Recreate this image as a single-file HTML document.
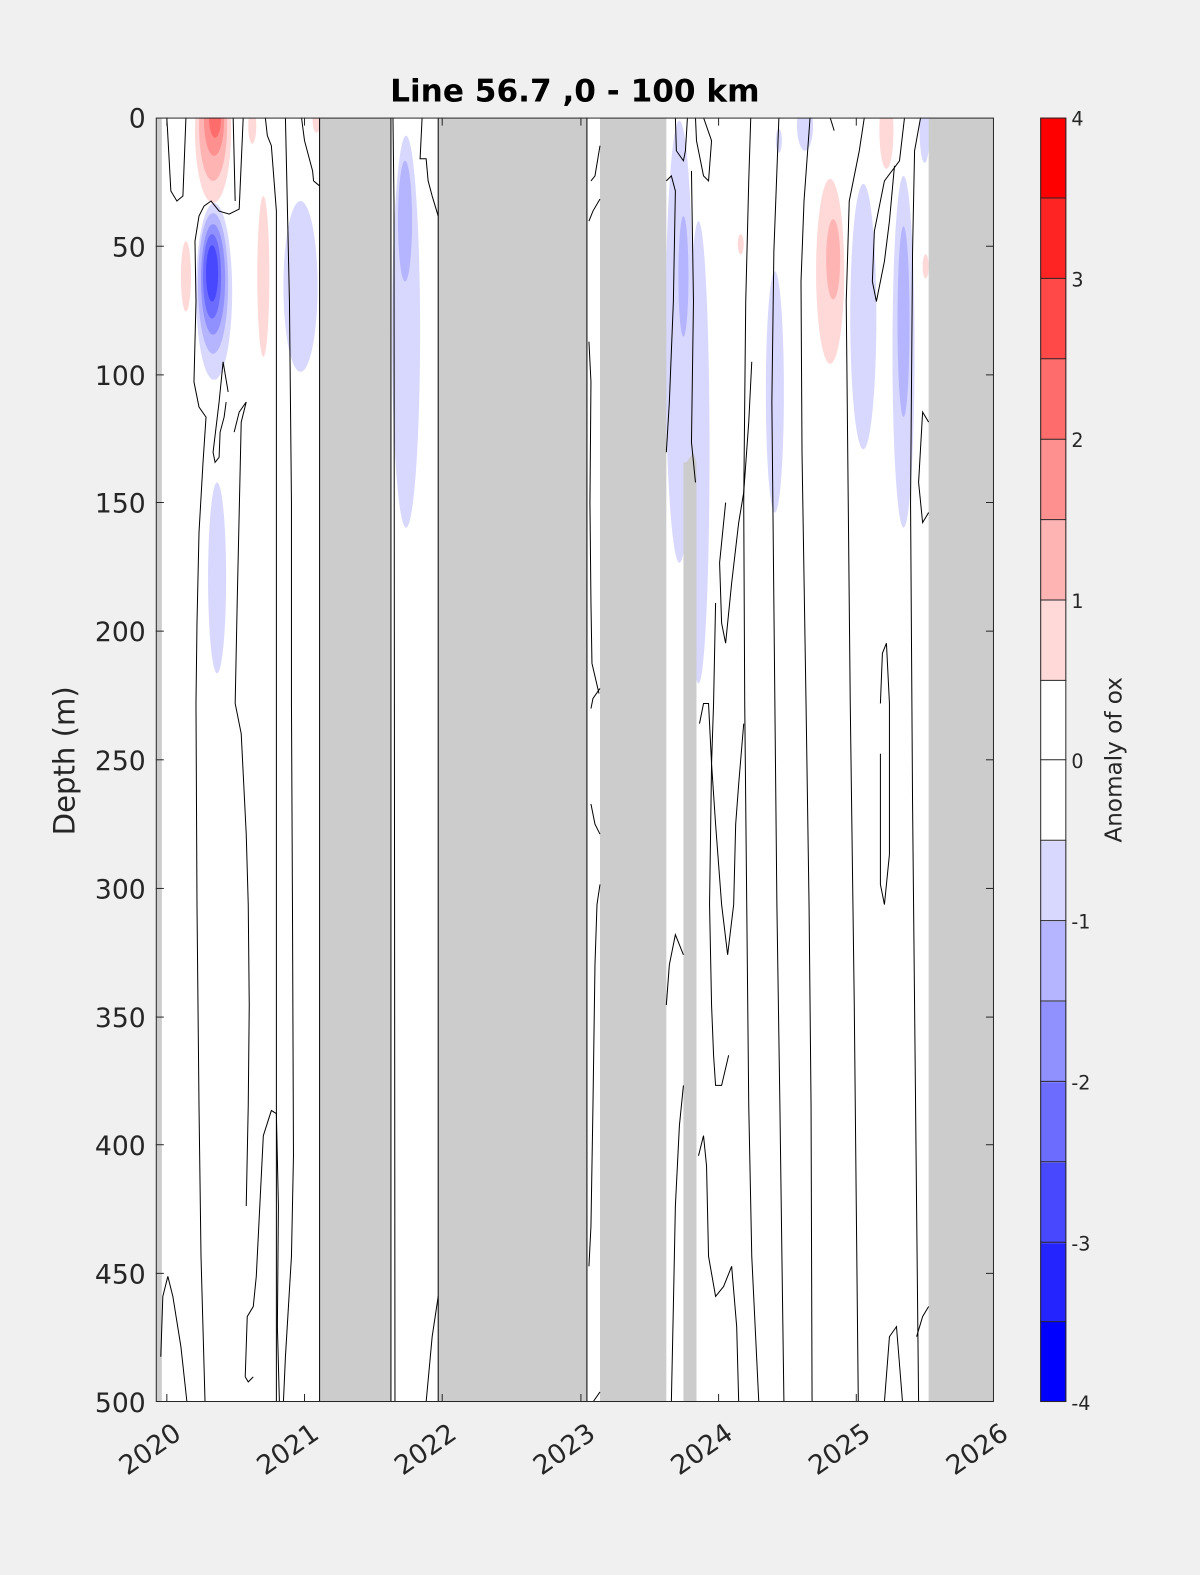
<!DOCTYPE html>
<html><head><meta charset="utf-8"><style>
html,body{margin:0;padding:0;background:#f0f0f0;overflow:hidden;width:1200px;height:1575px;}
svg{display:block;font-family:"DejaVu Sans","Liberation Sans",sans-serif;}
</style></head><body>
<svg width="1200" height="1575" viewBox="0 0 1194 1567" preserveAspectRatio="xMinYMin meet" xmlns="http://www.w3.org/2000/svg">
<defs><clipPath id="pc"><rect x="155" y="117" width="834" height="1278"/></clipPath></defs>
<rect x="0" y="0" width="1194" height="1567" fill="#f0f0f0"/>
<rect x="155" y="117" width="834" height="1278" fill="#fff"/>
<g clip-path="url(#pc)">
<ellipse cx="212" cy="130" rx="18" ry="72" fill="#ffd8d8"/>
<ellipse cx="212" cy="125" rx="14" ry="55" fill="#ffb4b4"/>
<ellipse cx="213" cy="120" rx="10" ry="35" fill="#ff9090"/>
<ellipse cx="214" cy="117" rx="6" ry="20" fill="#ff6c6c"/>
<ellipse cx="213" cy="290" rx="18" ry="88" fill="#d8d8ff"/>
<ellipse cx="212" cy="282" rx="15" ry="70" fill="#b4b4ff"/>
<ellipse cx="212" cy="278" rx="12" ry="55" fill="#9090ff"/>
<ellipse cx="211" cy="275" rx="9" ry="42" fill="#6c6cff"/>
<ellipse cx="211" cy="272" rx="6" ry="28" fill="#4848ff"/>
<ellipse cx="216" cy="575" rx="9" ry="95" fill="#d8d8ff"/>
<ellipse cx="185" cy="275" rx="5" ry="35" fill="#ffd8d8"/>
<ellipse cx="262" cy="275" rx="6" ry="80" fill="#ffd8d8"/>
<ellipse cx="251" cy="125" rx="4" ry="18" fill="#ffd8d8"/>
<ellipse cx="315" cy="120" rx="4" ry="12" fill="#ffd8d8"/>
<ellipse cx="299" cy="285" rx="17" ry="85" fill="#d8d8ff"/>
<ellipse cx="404" cy="330" rx="14" ry="195" fill="#d8d8ff"/>
<ellipse cx="403" cy="220" rx="7" ry="60" fill="#b4b4ff"/>
<ellipse cx="676" cy="340" rx="14" ry="220" fill="#d8d8ff"/>
<ellipse cx="680" cy="275" rx="5" ry="60" fill="#b4b4ff"/>
<ellipse cx="695" cy="450" rx="11" ry="230" fill="#d8d8ff"/>
<ellipse cx="771" cy="390" rx="9" ry="120" fill="#d8d8ff"/>
<ellipse cx="801" cy="125" rx="8" ry="25" fill="#d8d8ff"/>
<ellipse cx="775" cy="140" rx="3" ry="12" fill="#d8d8ff"/>
<ellipse cx="826" cy="270" rx="14" ry="92" fill="#ffd8d8"/>
<ellipse cx="829" cy="258" rx="7" ry="40" fill="#ffb4b4"/>
<ellipse cx="859" cy="315" rx="13" ry="132" fill="#d8d8ff"/>
<ellipse cx="899" cy="350" rx="11" ry="175" fill="#d8d8ff"/>
<ellipse cx="899" cy="320" rx="6" ry="95" fill="#b4b4ff"/>
<ellipse cx="882" cy="130" rx="7" ry="38" fill="#ffd8d8"/>
<ellipse cx="920" cy="130" rx="5" ry="32" fill="#d8d8ff"/>
<ellipse cx="737" cy="243" rx="3" ry="10" fill="#ffd8d8"/>
<ellipse cx="921" cy="265" rx="3" ry="12" fill="#ffd8d8"/>
<g fill="#cccccc">
<rect x="155" y="117" width="6" height="1278"/>
<rect x="318" y="117" width="71" height="1278"/>
<rect x="436" y="117" width="148" height="1278"/>
<rect x="597" y="117" width="66" height="1278"/>
<polygon points="683,460 690,450 693,460 693,1395 680,1395 680,460"/>
<rect x="924" y="117" width="65" height="1278"/>
</g>
<g fill="none" stroke="#000" stroke-width="1">
<line x1="318" y1="117" x2="318" y2="1395"/><line x1="389" y1="117" x2="389" y2="1395"/>
<line x1="436" y1="117" x2="436" y2="1395"/><line x1="584" y1="117" x2="584" y2="1395"/>
<polyline points="166,117 170,190 176,200 182,195 185,117"/>
<polyline points="242,117 238,208 228,213 218,210 210,200 203,205 198,215 194,240 195,300 193,380 198,405 205,415 202,460 198,530 196,620 195,700 196,900 198,1100 200,1250 204,1395"/>
<polyline points="264,117 266,135 270,145 275,210 275,1395"/>
<polyline points="300,117 303,140 311,170 312,180 318,185"/>
<polyline points="232,117 234,200"/>
<polyline points="227,390 222,360 218,400 212,450 214,460 218,455 219,430 223,415 225,400"/>
<polyline points="233,430 238,410 245,400 240,420 236,600 234,700 240,730 245,830 247,900 248,1000 247,1100 245,1200"/>
<polyline points="284,117 288,300 290,500 290,700 291,900 292,1150 290,1250 284,1350 282,1395"/>
<polyline points="244,1370 246,1310 252,1300 255,1270 262,1130 270,1105 275,1108 277,1200 276,1320 278,1395"/>
<polyline points="244,1370 247,1375 252,1370"/>
<polyline points="160,1350 162,1290 167,1270 172,1290 180,1340 186,1395"/>
<polyline points="391,117 392,200 393,1395"/>
<polyline points="420,117 418,158 424,158 426,180 430,195 436,215"/>
<polyline points="436,1290 430,1330 424,1395"/>
<polyline points="597,145 592,175 588,180"/>
<polyline points="597,198 590,210 586,220"/>
<polyline points="586,340 588,380 587,500 588,600 589,660 596,690"/>
<polyline points="597,685 590,695 588,705"/>
<polyline points="588,800 592,820 597,830"/>
<polyline points="597,880 594,900 592,960 590,1100 588,1220 586,1260"/>
<polyline points="597,1385 590,1395"/>
<polyline points="663,180 668,175 672,190 670,300 666,400 663,450"/>
<polyline points="672,117 673,150 680,160 682,150 684,117"/>
<polyline points="692,117 693,140 700,175 705,180 708,140 700,117"/>
<polyline points="688,170 690,300 688,440 692,480"/>
<polyline points="747,117 745,180 742,300 740,500 741,700 743,900 745,1100 748,1250 755,1395"/>
<polyline points="775,117 770,250 768,400 770,600 773,900 776,1100 778,1250 780,1395"/>
<polyline points="806,117 800,200 797,280 798,450 802,700 805,900 807,1100 808,1395"/>
<polyline points="826,117 830,130"/>
<polyline points="712,600 710,700 708,760 712,820 718,900 724,950 730,900 732,820 735,780 740,720"/>
<polyline points="722,500 716,560 718,620 722,640 728,580 735,520 740,490 745,420 748,360"/>
<polyline points="860,117 855,150 845,200 842,300 844,500 846,700 850,1000 852,1200 854,1395"/>
<polyline points="900,117 895,160 880,180 870,230 868,280 872,300 880,260 885,220 890,165"/>
<polyline points="916,117 910,150 908,250 906,500 908,800 910,1000 912,1200 914,1395"/>
<polyline points="876,700 878,650 882,640 885,700 885,850 880,900 876,880 876,750"/>
<polyline points="880,1395 885,1330 892,1320 898,1395"/>
<polyline points="924,420 918,410 914,480 918,520 924,510"/>
<polyline points="924,1300 918,1310 912,1330"/>
<polyline points="663,1000 666,960 672,930 680,950"/>
<polyline points="680,1080 676,1120 672,1200 670,1300 668,1395"/>
<polyline points="695,1150 700,1130 703,1160 705,1250 712,1290 720,1280 728,1260 733,1320 735,1395"/>
<polyline points="696,720 700,700 705,700 708,760 706,900 708,1000 710,1050 712,1080 718,1080 725,1050"/>
</g>
</g>
<rect x="155.5" y="117.5" width="833" height="1277" fill="none" stroke="#262626" stroke-width="1"/>
<g stroke="#262626" stroke-width="1">
<line x1="155" y1="245" x2="163" y2="245"/><line x1="981" y1="245" x2="989" y2="245"/>
<line x1="155" y1="373" x2="163" y2="373"/><line x1="981" y1="373" x2="989" y2="373"/>
<line x1="155" y1="500" x2="163" y2="500"/><line x1="981" y1="500" x2="989" y2="500"/>
<line x1="155" y1="628" x2="163" y2="628"/><line x1="981" y1="628" x2="989" y2="628"/>
<line x1="155" y1="756" x2="163" y2="756"/><line x1="981" y1="756" x2="989" y2="756"/>
<line x1="155" y1="884" x2="163" y2="884"/><line x1="981" y1="884" x2="989" y2="884"/>
<line x1="155" y1="1012" x2="163" y2="1012"/><line x1="981" y1="1012" x2="989" y2="1012"/>
<line x1="155" y1="1139" x2="163" y2="1139"/><line x1="981" y1="1139" x2="989" y2="1139"/>
<line x1="155" y1="1267" x2="163" y2="1267"/><line x1="981" y1="1267" x2="989" y2="1267"/>
<line x1="166" y1="1395" x2="166" y2="1387"/><line x1="303" y1="1395" x2="303" y2="1387"/>
<line x1="440" y1="1395" x2="440" y2="1387"/><line x1="578" y1="1395" x2="578" y2="1387"/>
<line x1="715" y1="1395" x2="715" y2="1387"/><line x1="852" y1="1395" x2="852" y2="1387"/>
<line x1="166" y1="117" x2="166" y2="125"/><line x1="303" y1="117" x2="303" y2="125"/>
<line x1="440" y1="117" x2="440" y2="125"/><line x1="578" y1="117" x2="578" y2="125"/>
<line x1="715" y1="117" x2="715" y2="125"/><line x1="852" y1="117" x2="852" y2="125"/>
</g>
<g font-size="26.5" fill="#262626" text-anchor="end">
<text x="145" y="127">0</text><text x="145" y="255">50</text><text x="145" y="383">100</text>
<text x="145" y="510">150</text><text x="145" y="638">200</text><text x="145" y="766">250</text>
<text x="145" y="894">300</text><text x="145" y="1022">350</text><text x="145" y="1149">400</text>
<text x="145" y="1277">450</text><text x="145" y="1405">500</text>
</g>
<g font-size="26.5" fill="#262626" text-anchor="end">
<text transform="translate(182,1430) rotate(-35)">2020</text>
<text transform="translate(319,1430) rotate(-35)">2021</text>
<text transform="translate(456,1430) rotate(-35)">2022</text>
<text transform="translate(594,1430) rotate(-35)">2023</text>
<text transform="translate(731,1430) rotate(-35)">2024</text>
<text transform="translate(868,1430) rotate(-35)">2025</text>
<text transform="translate(1005,1430) rotate(-35)">2026</text>
</g>
<text transform="translate(74,757) rotate(-90)" font-size="29" fill="#262626" text-anchor="middle">Depth (m)</text>
<text x="572" y="101" font-size="31" font-weight="bold" fill="#000" text-anchor="middle">Line 56.7 ,0 - 100 km</text>
<g>
<rect x="1035" y="117" width="26" height="80" fill="#ff0000"/>
<rect x="1035" y="197" width="26" height="80" fill="#ff2424"/>
<rect x="1035" y="277" width="26" height="80" fill="#ff4848"/>
<rect x="1035" y="357" width="26" height="80" fill="#ff6c6c"/>
<rect x="1035" y="437" width="26" height="80" fill="#ff9090"/>
<rect x="1035" y="517" width="26" height="80" fill="#ffb4b4"/>
<rect x="1035" y="597" width="26" height="80" fill="#ffd8d8"/>
<rect x="1035" y="677" width="26" height="160" fill="#ffffff"/>
<rect x="1035" y="837" width="26" height="80" fill="#d8d8ff"/>
<rect x="1035" y="917" width="26" height="80" fill="#b4b4ff"/>
<rect x="1035" y="997" width="26" height="80" fill="#9090ff"/>
<rect x="1035" y="1077" width="26" height="80" fill="#6c6cff"/>
<rect x="1035" y="1157" width="26" height="80" fill="#4848ff"/>
<rect x="1035" y="1237" width="26" height="78" fill="#2424ff"/>
<rect x="1035" y="1315" width="26" height="80" fill="#0000ff"/>
</g>
<g stroke="#262626" stroke-width="1">
<line x1="1035" y1="197" x2="1061" y2="197"/><line x1="1035" y1="277" x2="1061" y2="277"/>
<line x1="1035" y1="357" x2="1061" y2="357"/><line x1="1035" y1="437" x2="1061" y2="437"/>
<line x1="1035" y1="517" x2="1061" y2="517"/><line x1="1035" y1="597" x2="1061" y2="597"/>
<line x1="1035" y1="677" x2="1061" y2="677"/><line x1="1035" y1="756" x2="1061" y2="756"/>
<line x1="1035" y1="836" x2="1061" y2="836"/><line x1="1035" y1="916" x2="1061" y2="916"/>
<line x1="1035" y1="996" x2="1061" y2="996"/><line x1="1035" y1="1076" x2="1061" y2="1076"/>
<line x1="1035" y1="1156" x2="1061" y2="1156"/><line x1="1035" y1="1236" x2="1061" y2="1236"/>
<line x1="1035" y1="1315" x2="1061" y2="1315"/>
</g>
<rect x="1035.5" y="117.5" width="25" height="1277" fill="none" stroke="#262626"/>
<g font-size="19" fill="#262626">
<text x="1066" y="125">4</text><text x="1066" y="285">3</text><text x="1066" y="445">2</text>
<text x="1066" y="605">1</text><text x="1066" y="764">0</text><text x="1066" y="924">-1</text>
<text x="1066" y="1084">-2</text><text x="1066" y="1244">-3</text><text x="1066" y="1403">-4</text>
</g>
<text transform="translate(1116,756) rotate(-90)" font-size="23" fill="#262626" text-anchor="middle">Anomaly of ox</text>
</svg>
</body></html>
